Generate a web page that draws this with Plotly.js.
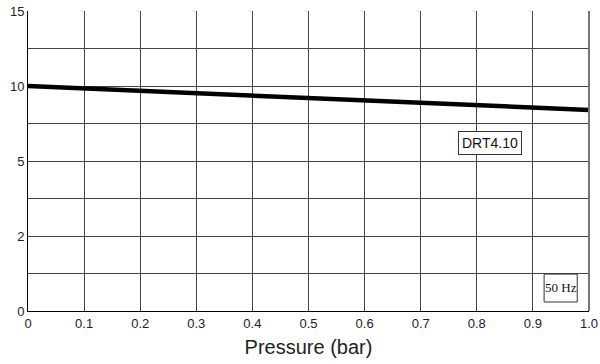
<!DOCTYPE html>
<html>
<head>
<meta charset="utf-8">
<script src="https://cdn.plot.ly/plotly-3.0.1.min.js"></script>
<style>html,body{margin:0;padding:0;background:#fff;}#chart{width:600px;height:364px;}</style>
</head>
<body>
<div id="chart"></div>
<script>
// Data
var pressure = [0, 0.1, 0.2, 0.3, 0.4, 0.5, 0.6, 0.7, 0.8, 0.9, 1.0];
var flow = [10.0, 9.84, 9.68, 9.52, 9.36, 9.2, 9.04, 8.88, 8.72, 8.56, 8.4];
var xTicks = [0, 0.1, 0.2, 0.3, 0.4, 0.5, 0.6, 0.7, 0.8, 0.9, 1.0];
var xTickText = ['0', '0.1', '0.2', '0.3', '0.4', '0.5', '0.6', '0.7', '0.8', '0.9', '1.0'];
var yTickValues = [0, 2, 5, 10, 15];
var yTickText = ['0', '2', '5', '10', '15'];
var seriesLabel = 'DRT4.10';
var freqLabel = '50 Hz';

// Piecewise-linear axis: labelled values are evenly spaced
function toPos(v) {
  for (var i = 0; i < yTickValues.length - 1; i++) {
    var a = yTickValues[i], b = yTickValues[i + 1];
    if (v <= b || i === yTickValues.length - 2) return i + (v - a) / (b - a);
  }
}
var yPos = flow.map(toPos);
var gridVals = [], gridText = [];
for (var k = 0; k <= 2 * (yTickValues.length - 1); k++) {
  gridVals.push(k / 2);
  gridText.push(k % 2 === 0 ? yTickText[k / 2] : '');
}

var trace = {
  x: pressure, y: yPos, type: 'scatter', mode: 'lines',
  line: {color: '#000', width: 4.5}, hoverinfo: 'skip', showlegend: false
};

var layout = {
  width: 600, height: 364,
  margin: {l: 28, r: 11, t: 11, b: 53},
  paper_bgcolor: '#fff', plot_bgcolor: '#fff',
  font: {family: 'Liberation Sans, Arial, sans-serif', color: '#222', size: 13},
  xaxis: {
    range: [0, 1.0], tickvals: xTicks, ticktext: xTickText,
    showgrid: true, gridcolor: '#444', gridwidth: 1,
    showline: true, linecolor: '#000', linewidth: 1,
    zeroline: false, ticks: '', ticklen: 0,
    tickfont: {size: 13, color: '#222'},
    title: {text: 'Pressure (bar)', font: {size: 20, color: '#222'}, standoff: 10},
    fixedrange: true
  },
  yaxis: {
    range: [0, 4], tickvals: gridVals, ticktext: gridText,
    showgrid: true, gridcolor: '#444', gridwidth: 1,
    showline: true, linecolor: '#000', linewidth: 1,
    zeroline: false, ticks: '', ticklen: 0,
    tickfont: {size: 13, color: '#222'},
    fixedrange: true
  },
  shapes: [
    {type: 'line', xref: 'paper', yref: 'paper', x0: 1, x1: 1, y0: 0, y1: 1,
     line: {color: '#777', width: 2}},
    {type: 'rect', xref: 'paper', yref: 'paper', x0: 0.920, x1: 0.979, y0: 0.03, y1: 0.123,
     fillcolor: '#fff', line: {color: '#333', width: 1}, layer: 'above'}
  ],
  annotations: [
    {text: seriesLabel, xref: 'paper', yref: 'paper', x: 0.824, y: 0.56,
     xanchor: 'center', yanchor: 'middle',
     showarrow: false, font: {family: 'Liberation Sans, Arial, sans-serif', size: 14, color: '#111'},
     bgcolor: '#fff', bordercolor: '#333', borderwidth: 1, borderpad: 3},
    {text: freqLabel, xref: 'paper', yref: 'paper', x: 0.9495, y: 0.077,
     xanchor: 'center', yanchor: 'middle',
     showarrow: false, font: {family: 'Liberation Serif, Times New Roman, serif', size: 13, color: '#111'}}
  ]
};

Plotly.newPlot('chart', [trace], layout, {displayModeBar: false, staticPlot: true});
</script>
</body>
</html>
